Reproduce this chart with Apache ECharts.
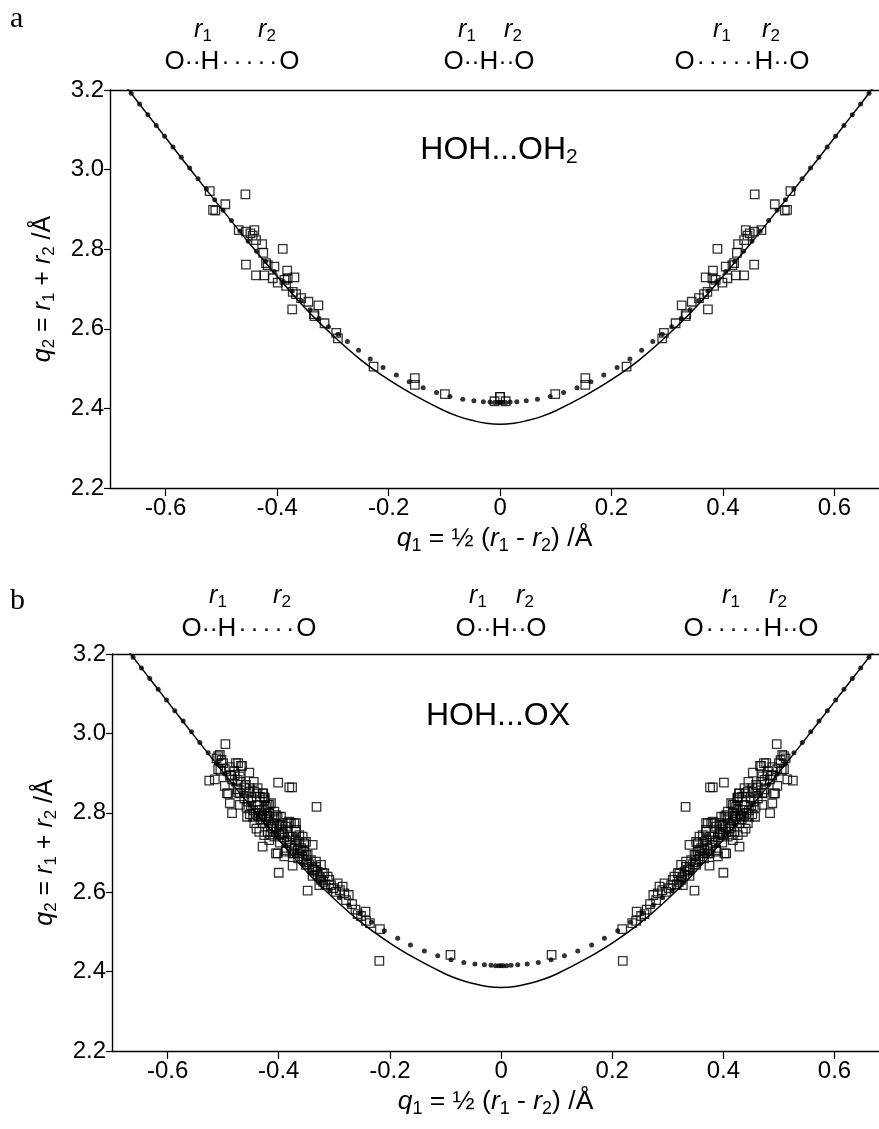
<!DOCTYPE html>
<html><head><meta charset="utf-8">
<script src="https://cdn.jsdelivr.net/npm/echarts@6/dist/echarts.min.js"></script>
<style>html,body{margin:0;padding:0;background:#fff}#c{width:879px;height:1129px}</style>
</head><body><div id="c"></div>
<script>
// ---- data ----
const xTicks = [-0.6, -0.4, -0.2, 0, 0.2, 0.4, 0.6];
const yTicks = [2.2, 2.4, 2.6, 2.8, 3.0, 3.2];

// solid correlation curve (q1, q2)
const curveQ1 = [-0.70,-0.65,-0.60,-0.55,-0.50,-0.45,-0.40,-0.35,-0.30,-0.25,-0.20,-0.15,-0.10,-0.075,-0.05,-0.025,0,
                  0.025,0.05,0.075,0.10,0.15,0.20,0.25,0.30,0.35,0.40,0.45,0.50,0.55,0.60,0.65,0.70];
const curveQ2 = [3.26,3.17,3.08,2.99,2.902,2.815,2.732,2.652,2.583,2.522,2.472,2.430,2.394,2.380,2.370,2.3625,2.360,
                  2.3625,2.370,2.380,2.394,2.430,2.472,2.522,2.583,2.652,2.732,2.815,2.902,2.99,3.08,3.17,3.26];

// dotted curve (quantum corrected correlation)
const dotQ1 = [-0.662,-0.647,-0.632,-0.617,-0.602,-0.587,-0.572,-0.557,-0.542,-0.527,-0.512,-0.497,-0.482,-0.467,-0.452,-0.437,-0.421,-0.405,-0.389,-0.373,-0.357,-0.341,-0.325,-0.308,-0.291,-0.274,-0.254,-0.233,-0.210,-0.186,-0.163,-0.138,-0.114,-0.090,-0.067,-0.047,-0.030,-0.018,-0.010,-0.004,0,
  0.004,0.010,0.018,0.030,0.047,0.067,0.090,0.114,0.138,0.163,0.186,0.210,0.233,0.254,0.274,0.291,0.308,0.325,0.341,0.357,0.373,0.389,0.405,0.421,0.437,0.452,0.467,0.482,0.497,0.512,0.527,0.542,0.557,0.572,0.587,0.602,0.617,0.632,0.647,0.662];
const dotQ2 = [3.192,3.165,3.138,3.111,3.084,3.057,3.031,3.004,2.977,2.951,2.924,2.898,2.872,2.846,2.820,2.795,2.769,2.744,2.719,2.695,2.671,2.648,2.626,2.605,2.586,2.568,2.546,2.524,2.503,2.484,2.467,2.452,2.440,2.430,2.423,2.419,2.417,2.416,2.415,2.415,2.415,
  2.415,2.415,2.416,2.417,2.419,2.423,2.430,2.440,2.452,2.467,2.484,2.503,2.524,2.546,2.568,2.586,2.605,2.626,2.648,2.671,2.695,2.719,2.744,2.769,2.795,2.820,2.846,2.872,2.898,2.924,2.951,2.977,3.004,3.031,3.057,3.084,3.111,3.138,3.165,3.192];

// observed H-bonds (each bond is plotted at -q1 and +q1)
const obsA = [[-0.521,2.946],[-0.457,2.938],[-0.493,2.913],[-0.515,2.899],[-0.511,2.897],[-0.469,2.848],[-0.456,2.844],[-0.448,2.840],[-0.441,2.848],[-0.444,2.834],[-0.438,2.823],[-0.427,2.813],[-0.390,2.801],[-0.425,2.791],[-0.456,2.761],[-0.420,2.765],[-0.417,2.760],[-0.405,2.756],[-0.438,2.734],[-0.423,2.734],[-0.408,2.727],[-0.382,2.746],[-0.381,2.727],[-0.369,2.729],[-0.399,2.716],[-0.387,2.723],[-0.384,2.708],[-0.372,2.693],[-0.366,2.687],[-0.357,2.677],[-0.344,2.668],[-0.326,2.659],[-0.373,2.649],[-0.334,2.637],[-0.333,2.632],[-0.315,2.614],[-0.294,2.590],[-0.291,2.576],[-0.227,2.505],[-0.153,2.476],[-0.153,2.459],[-0.099,2.436],[-0.010,2.418],[0.0,2.429]];

const obsB = [[-0.496,2.973],[-0.506,2.946],[-0.512,2.937],[-0.503,2.933],[-0.500,2.925],[-0.509,2.910],[-0.505,2.906],[-0.497,2.910],[-0.488,2.915],[-0.477,2.925],[-0.468,2.918],[-0.453,2.901],[-0.525,2.881],[-0.515,2.884],[-0.488,2.893],[-0.479,2.895],[-0.484,2.884],[-0.474,2.883],[-0.468,2.878],[-0.497,2.868],[-0.445,2.878],[-0.462,2.864],[-0.474,2.859],[-0.491,2.849],[-0.470,2.849],[-0.453,2.853],[-0.444,2.853],[-0.429,2.849],[-0.426,2.839],[-0.401,2.876],[-0.381,2.864],[-0.376,2.864],
[-0.509,2.943],[-0.486,2.895],[-0.473,2.925],[-0.466,2.918],[-0.493,2.849],[-0.488,2.824],[-0.484,2.799],[-0.473,2.851],[-0.470,2.820],[-0.458,2.815],[-0.457,2.790],[-0.449,2.837],[-0.440,2.849],[-0.428,2.849],[-0.425,2.837],[-0.332,2.815],[-0.438,2.820],[-0.435,2.807],[-0.423,2.815],[-0.417,2.820],[-0.432,2.790],[-0.444,2.774],[-0.429,2.774],[-0.417,2.790],[-0.408,2.786],[-0.405,2.794],[-0.396,2.790],[-0.393,2.774],[-0.414,2.765],[-0.435,2.752],[-0.426,2.744],[-0.408,2.740],[-0.393,2.752],[-0.381,2.778],[-0.372,2.774],[-0.384,2.752],[-0.369,2.757],[-0.357,2.740],[-0.375,2.740],[-0.363,2.727],[-0.354,2.723],[-0.339,2.719],[-0.429,2.715],[-0.405,2.698],[-0.387,2.706],[-0.372,2.698],[-0.357,2.706],[-0.351,2.694],
[-0.426,2.832],[-0.420,2.820],[-0.414,2.824],[-0.426,2.807],[-0.417,2.799],[-0.408,2.803],[-0.402,2.790],[-0.384,2.774],[-0.378,2.774],[-0.369,2.774],[-0.423,2.782],[-0.411,2.774],[-0.399,2.769],[-0.387,2.765],[-0.369,2.752],[-0.363,2.744],[-0.420,2.752],[-0.405,2.752],[-0.393,2.748],[-0.381,2.740],[-0.369,2.731],[-0.351,2.727],[-0.360,2.711],[-0.354,2.702],[-0.375,2.698],[-0.387,2.702],[-0.402,2.698],[-0.417,2.731],[-0.348,2.694],[-0.342,2.681],[-0.333,2.677],[-0.324,2.669],[-0.351,2.669],[-0.375,2.667],[-0.339,2.656],[-0.330,2.652],[-0.318,2.648],[-0.312,2.639],[-0.339,2.641],[-0.324,2.631],[-0.309,2.631],[-0.294,2.622],[-0.400,2.649],[-0.285,2.614],[-0.348,2.604],[-0.327,2.618],
[-0.297,2.601],[-0.282,2.597],[-0.274,2.593],[-0.279,2.580],[-0.258,2.545],[-0.244,2.551],[-0.243,2.528],[-0.218,2.507],[-0.219,2.427],[-0.091,2.442],[-0.333,2.664],[-0.321,2.648],[-0.306,2.618],
[-0.462,2.836],[-0.455,2.828],[-0.450,2.818],[-0.446,2.806],[-0.441,2.800],[-0.437,2.792],[-0.433,2.784],[-0.430,2.796],[-0.421,2.792],[-0.418,2.778],[-0.411,2.760],[-0.404,2.764],[-0.399,2.744],[-0.396,2.758],[-0.390,2.738],[-0.386,2.728],[-0.380,2.724],[-0.377,2.712],[-0.371,2.716],[-0.366,2.706],[-0.362,2.698],[-0.358,2.690],[-0.355,2.682],[-0.350,2.676],[-0.345,2.670],[-0.340,2.664],[-0.336,2.656],[-0.330,2.644],[-0.326,2.638],[-0.320,2.626],[-0.316,2.620],[-0.302,2.610],[-0.290,2.605],[-0.268,2.570],[-0.262,2.556],[-0.252,2.540],[-0.236,2.522],[-0.480,2.905],[-0.470,2.892],[-0.459,2.870],[-0.452,2.862],[-0.438,2.862],[-0.434,2.840],[-0.446,2.790],[-0.452,2.796],[-0.440,2.760],[-0.415,2.745],[-0.398,2.725],[-0.390,2.690],[-0.365,2.685]];

// ---- build ----
const F = 'Liberation Sans, Arial, sans-serif';
const pairs = (a, b) => a.map((v, i) => [v, b[i]]);
const both = arr => arr.concat(arr.map(p => [-p[0], p[1]]));

function mkRich(main, sub, lh, slh) {
  return {
    n: {fontFamily: F, fontSize: main, lineHeight: lh, verticalAlign: 'middle', color: '#000'},
    i: {fontFamily: F, fontSize: main, fontStyle: 'italic', lineHeight: lh, verticalAlign: 'middle', color: '#000'},
    s: {fontFamily: F, fontSize: sub, lineHeight: slh, verticalAlign: 'bottom', color: '#000'}
  };
}
const richY = mkRich(25, 17, 30, 12);
const richX = mkRich(26.5, 18, 32, 13);
const rRich = mkRich(25, 17, 30, 12);
const molRich = {
  a: {fontFamily: F, fontSize: 26, color: '#000', lineHeight: 30},
  d: {fontFamily: F, fontSize: 24, color: '#000', lineHeight: 30},
  l: {fontFamily: F, fontSize: 24, color: '#000', lineHeight: 30, padding: [0, 2, 0, 2]}
};
const shortB = '{d|··}', longB = '{l|·}{l|·}{l|·}{l|·}{l|·}';
const molL = '{a|O}' + shortB + '{a|H}' + longB + '{a|O}';
const molC = '{a|O}' + shortB + '{a|H}' + shortB + '{a|O}';
const molR = '{a|O}' + longB + '{a|H}' + shortB + '{a|O}';

function txt(x, y, text, r, align) {
  return {type: 'text', x: x, y: y, silent: true,
    style: {text: text, rich: r, align: align || 'center', verticalAlign: 'middle',
            textAlign: align || 'center', textVerticalAlign: 'middle', fill: '#000'}};
}
function plain(x, y, text, font, size) {
  return {type: 'text', x: x, y: y, silent: true,
    style: {text: text, fontFamily: font, fontSize: size, fill: '#000', align: 'left', verticalAlign: 'top',
            textAlign: 'left', textVerticalAlign: 'top'}};
}

const axisLineStyle = {color: '#000', width: 1.4};
function xAx(g) {
  return [{
    type: 'value', gridIndex: g, position: 'bottom', min: -0.7, max: 0.68,
    axisLine: {show: true, onZero: false, lineStyle: axisLineStyle},
    axisTick: {show: true, length: 8, lineStyle: {color: '#000', width: 1.2}, customValues: xTicks},
    axisLabel: {show: true, color: '#000', fontFamily: F, fontSize: 24, margin: 8, customValues: xTicks,
                formatter: v => (Math.abs(v) < 1e-9 ? '0' : String(v))},
    splitLine: {show: false},
    name: '{i|q}{s|1}{n| = ½ (}{i|r}{s|1}{n| - }{i|r}{s|2}{n|) /Å}', nameLocation: 'middle', nameGap: 35,
    nameTextStyle: {rich: richX, fontFamily: F, fontSize: 26, color: '#000'}
  }, {
    type: 'value', gridIndex: g, position: 'top', min: -0.7, max: 0.68,
    axisLine: {show: true, onZero: false, lineStyle: axisLineStyle},
    axisTick: {show: false}, axisLabel: {show: false}, splitLine: {show: false}
  }];
}
function yAx(g) {
  return {
    type: 'value', gridIndex: g, min: 2.2, max: 3.2,
    axisLine: {show: true, onZero: false, lineStyle: axisLineStyle},
    axisTick: {show: true, length: 6, lineStyle: {color: '#000', width: 1.2}, customValues: yTicks},
    axisLabel: {show: true, color: '#000', fontFamily: F, fontSize: 24, margin: 6, customValues: yTicks,
                formatter: v => v.toFixed(1)},
    splitLine: {show: false},
    name: '{i|q}{s|2}{n| = }{i|r}{s|1}{n| + }{i|r}{s|2}{n| /Å}', nameLocation: 'middle', nameRotate: 90, nameGap: 52,
    nameTextStyle: {rich: richY, fontFamily: F, fontSize: 25, color: '#000'}
  };
}
function seriesFor(g, obs) {
  return [{
    type: 'line', xAxisIndex: g * 2, yAxisIndex: g, data: pairs(curveQ1, curveQ2), smooth: 0.4,
    showSymbol: false, symbol: 'none', lineStyle: {color: '#000', width: 1.5}, silent: true, z: 2
  }, {
    type: 'scatter', xAxisIndex: g * 2, yAxisIndex: g, data: pairs(dotQ1, dotQ2), symbol: 'circle',
    symbolSize: 5, itemStyle: {color: '#000'}, silent: true, z: 3
  }, {
    type: 'scatter', xAxisIndex: g * 2, yAxisIndex: g, data: both(obs), symbol: 'rect', symbolSize: 8.5,
    itemStyle: {color: 'rgba(255,255,255,0)', borderColor: '#000', borderWidth: 1.3}, silent: true, z: 4
  }];
}

const chart = echarts.init(document.getElementById('c'), null, {renderer: 'canvas'});
chart.setOption({
  animation: false,
  backgroundColor: '#fff',
  grid: [
    {left: 110, right: 0, top: 90, height: 398, outerBoundsMode: 'none', containLabel: false},
    {left: 112, right: 0, top: 654, height: 397, outerBoundsMode: 'none', containLabel: false}
  ],
  xAxis: xAx(0).concat(xAx(1)),
  yAxis: [yAx(0), yAx(1)],
  series: seriesFor(0, obsA).concat(seriesFor(1, obsB)),
  graphic: [
    plain(10, 4, 'a', 'Liberation Serif, Times New Roman, serif', 30),
    plain(10, 586, 'b', 'Liberation Serif, Times New Roman, serif', 30),
    txt(203, 30, '{i|r}{s|1}', rRich), txt(267, 30, '{i|r}{s|2}', rRich),
    txt(467, 30, '{i|r}{s|1}', rRich), txt(513, 30, '{i|r}{s|2}', rRich),
    txt(722, 30, '{i|r}{s|1}', rRich), txt(771, 30, '{i|r}{s|2}', rRich),
    txt(232, 62, molL, molRich), txt(489, 62, molC, molRich), txt(742, 62, molR, molRich),
    txt(218, 596, '{i|r}{s|1}', rRich), txt(282, 596, '{i|r}{s|2}', rRich),
    txt(478, 596, '{i|r}{s|1}', rRich), txt(525, 596, '{i|r}{s|2}', rRich),
    txt(731, 596, '{i|r}{s|1}', rRich), txt(778, 596, '{i|r}{s|2}', rRich),
    txt(249, 629, molL, molRich), txt(501, 629, molC, molRich), txt(751, 629, molR, molRich),
    txt(499, 150, '{b|HOH...OH}{c|2}', {
      b: {fontFamily: F, fontSize: 32, lineHeight: 36, verticalAlign: 'middle', color: '#000'},
      c: {fontFamily: F, fontSize: 21, lineHeight: 14, verticalAlign: 'bottom', color: '#000'}}),
    txt(498, 716, '{b|HOH...OX}', {
      b: {fontFamily: F, fontSize: 32, lineHeight: 36, verticalAlign: 'middle', color: '#000'}})
  ]
});
</script></body></html>
